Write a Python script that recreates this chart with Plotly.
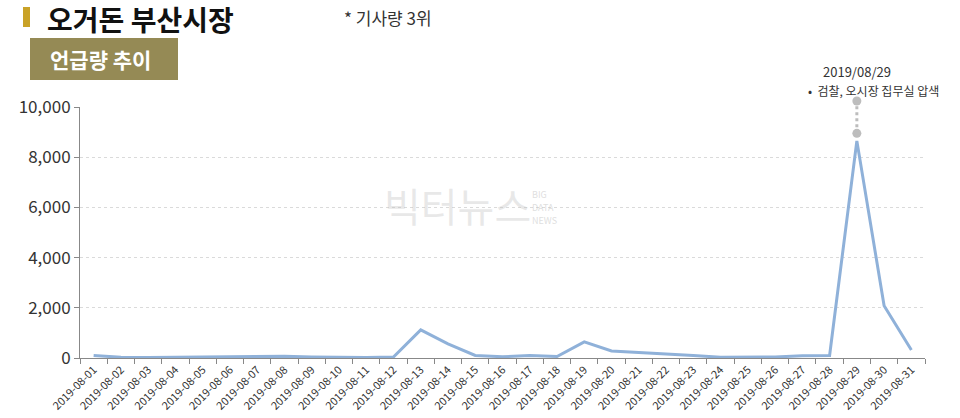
import plotly.graph_objects as go

dates = [f"2019-08-{d:02d}" for d in range(1, 32)]
mentions = [100, 30, 20, 30, 40, 50, 50, 70, 40, 20, 20, 40, 1120, 560, 100, 50,
            100, 60, 640, 280, 230, 150, 100, 30, 20, 40, 90, 100, 8650, 2080, 320]
event_date = "2019-08-29"
event_marks = [8950, 10240]
event_label = "2019/08/29"
event_text = "•  검찰, 오시장 집무실 압색"
y_ticks = [0, 2000, 4000, 6000, 8000, 10000]
Y_MAX = 10000

FONT = "Noto Sans CJK KR"
PW, PH = 845, 251  # plot area pixel size


def px(xp):
    return (xp - 80) / PW


def py(yp):
    return (358 - yp) / PH


ev_idx = dates.index(event_date)
ev_xp = (ev_idx + 0.5) / len(dates)
ev_y0 = event_marks[0] / Y_MAX
ev_y1 = event_marks[1] / Y_MAX

fig = go.Figure()
fig.add_trace(go.Scatter(x=dates, y=mentions, mode="lines",
                         line=dict(color="#8fb1d9", width=3), hoverinfo="skip"))

wm_color = "rgba(190,190,190,0.5)"

fig.update_layout(
    width=960, height=418,
    margin=dict(l=80, r=35, t=107, b=60, autoexpand=False),
    paper_bgcolor="white", plot_bgcolor="white",
    showlegend=False,
    font=dict(family=FONT, color="#333"),
    xaxis=dict(type="category", range=[-0.5, len(dates) - 0.5],
               tickson="boundaries", ticks="outside", ticklen=5,
               tickcolor="#888", showline=True, linecolor="#888", linewidth=1,
               showgrid=False, tickangle=-45, automargin=False,
               tickfont=dict(size=11, color="#333")),
    yaxis=dict(range=[0, Y_MAX], tickvals=y_ticks, tickformat=",",
               ticks="outside", ticklen=5, tickcolor="#888", automargin=False,
               showline=True, linecolor="#888", linewidth=1,
               showgrid=True, gridcolor="#dadada", griddash="dot", gridwidth=1,
               zeroline=False, tickfont=dict(size=17, color="#333")),
    shapes=[
        dict(type="rect", xref="paper", yref="paper", x0=px(23), x1=px(30),
             y0=py(7), y1=py(27), fillcolor="#c9a227", line=dict(width=0)),
        dict(type="rect", xref="paper", yref="paper", x0=px(30), x1=px(178),
             y0=py(38), y1=py(80), fillcolor="#958a55", line=dict(width=0)),
        dict(type="line", xref="paper", yref="paper", x0=ev_xp, x1=ev_xp,
             y0=ev_y0, y1=ev_y1, line=dict(color="#bdbdbd", width=3, dash="dot")),
        dict(type="circle", xref="paper", yref="paper", xsizemode="pixel",
             ysizemode="pixel", xanchor=ev_xp, yanchor=ev_y0, x0=-4.5, x1=4.5,
             y0=-4.5, y1=4.5, fillcolor="#bdbdbd", line=dict(width=0)),
        dict(type="circle", xref="paper", yref="paper", xsizemode="pixel",
             ysizemode="pixel", xanchor=ev_xp, yanchor=ev_y1, x0=-4.5, x1=4.5,
             y0=-4.5, y1=4.5, fillcolor="#bdbdbd", line=dict(width=0)),
    ],
    annotations=[
        dict(text="<b>오거돈 부산시장</b>", xref="paper", yref="paper",
             x=px(45), y=py(19), xanchor="left", yanchor="middle",
             showarrow=False, font=dict(size=28, color="#111", family=FONT)),
        dict(text="* 기사량 3위", xref="paper", yref="paper",
             x=px(342), y=py(17), xanchor="left", yanchor="middle",
             showarrow=False, font=dict(size=17, color="#333", family=FONT)),
        dict(text="<b>언급량 추이</b>", xref="paper", yref="paper",
             x=px(100), y=py(59), xanchor="center", yanchor="middle",
             showarrow=False, font=dict(size=21, color="white", family=FONT)),
        dict(text=event_label, xref="paper", yref="paper", x=ev_xp, y=py(72),
             xanchor="center", yanchor="middle", showarrow=False,
             font=dict(size=13, color="#333", family=FONT)),
        dict(text=event_text, xref="paper", yref="paper", x=px(806), y=py(90),
             xanchor="left", yanchor="middle", showarrow=False,
             font=dict(size=12, color="#333", family=FONT)),
        dict(text="빅터뉴스", xref="paper", yref="paper", x=px(457), y=py(205),
             xanchor="center", yanchor="middle", showarrow=False,
             font=dict(size=40, color="rgba(190,190,190,0.35)", family=FONT)),
        dict(text="BIG", xref="paper", yref="paper", x=px(530), y=py(194),
             xanchor="left", yanchor="middle", showarrow=False,
             font=dict(size=9, color=wm_color, family=FONT)),
        dict(text="DATA", xref="paper", yref="paper", x=px(530), y=py(207),
             xanchor="left", yanchor="middle", showarrow=False,
             font=dict(size=9, color=wm_color, family=FONT)),
        dict(text="NEWS", xref="paper", yref="paper", x=px(530), y=py(220),
             xanchor="left", yanchor="middle", showarrow=False,
             font=dict(size=9, color=wm_color, family=FONT)),
    ],
)

fig.write_html("out.html")
